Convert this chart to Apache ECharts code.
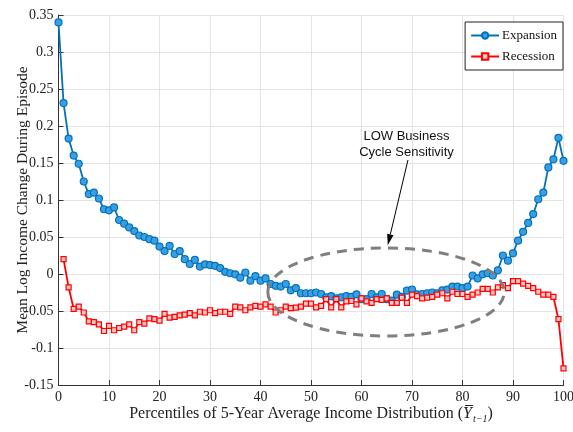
<!DOCTYPE html>
<html>
<head>
<meta charset="utf-8">
<script src="https://cdn.jsdelivr.net/npm/echarts@6/dist/echarts.min.js"></script>
<style>
  html, body { margin: 0; padding: 0; background: #fff; }
  #chart { width: 573px; height: 432px; }
</style>
</head>
<body>
<div id="chart"></div>
<script>
// Percentile of the 5-year average income distribution
const percentiles = [
  0, 1, 2, 3, 4, 5, 6, 7, 8, 9,
  10, 11, 12, 13, 14, 15, 16, 17, 18, 19,
  20, 21, 22, 23, 24, 25, 26, 27, 28, 29,
  30, 31, 32, 33, 34, 35, 36, 37, 38, 39,
  40, 41, 42, 43, 44, 45, 46, 47, 48, 49,
  50, 51, 52, 53, 54, 55, 56, 57, 58, 59,
  60, 61, 62, 63, 64, 65, 66, 67, 68, 69,
  70, 71, 72, 73, 74, 75, 76, 77, 78, 79,
  80, 81, 82, 83, 84, 85, 86, 87, 88, 89,
  90, 91, 92, 93, 94, 95, 96, 97, 98, 99,
  100
];

// Mean log income change during expansions, one value per percentile
const expansion = [
  0.340, 0.231, 0.183, 0.160, 0.149, 0.125, 0.108, 0.110, 0.102, 0.0875,
  0.086, 0.090, 0.073, 0.068, 0.063, 0.058, 0.052, 0.050, 0.047, 0.045,
  0.037, 0.031, 0.038, 0.027, 0.031, 0.020, 0.0135, 0.019, 0.010, 0.013,
  0.012, 0.011, 0.008, 0.003, 0.001, -0.0005, -0.005, 0.002, -0.009, -0.003,
  -0.009, -0.006, -0.0135, -0.016, -0.017, -0.0135, -0.022, -0.019, -0.026, -0.026,
  -0.026, -0.025, -0.027, -0.0315, -0.030, -0.033, -0.0315, -0.030, -0.031, -0.0275,
  -0.034, -0.034, -0.027, -0.0315, -0.027, -0.034, -0.036, -0.028, -0.031, -0.0225,
  -0.021, -0.0275, -0.027, -0.026, -0.025, -0.026, -0.022, -0.021, -0.017, -0.017,
  -0.019, -0.017, -0.002, -0.006, -0.0005, 0.001, -0.002, 0.005, 0.025, 0.018,
  0.028, 0.045, 0.057, 0.069, 0.081, 0.101, 0.110, 0.144, 0.155, 0.184,
  0.153
];

// Mean log income change during recessions (no value at percentile 0)
const recession = [
  null, 0.020, -0.018, -0.047, -0.044, -0.052, -0.064, -0.065, -0.068, -0.077,
  -0.070, -0.076, -0.073, -0.071, -0.068, -0.076, -0.065, -0.067, -0.060, -0.061,
  -0.063, -0.054, -0.059, -0.058, -0.056, -0.055, -0.053, -0.056, -0.051, -0.052,
  -0.049, -0.053, -0.051, -0.051, -0.054, -0.044, -0.045, -0.049, -0.045, -0.043,
  -0.044, -0.041, -0.044, -0.052, -0.049, -0.044, -0.046, -0.0455, -0.044, -0.040,
  -0.040, -0.045, -0.043, -0.034, -0.045, -0.034, -0.045, -0.037, -0.0365, -0.041,
  -0.033, -0.037, -0.039, -0.034, -0.035, -0.033, -0.039, -0.039, -0.032, -0.039,
  -0.028, -0.030, -0.033, -0.032, -0.031, -0.028, -0.026, -0.033, -0.024, -0.027,
  -0.027, -0.031, -0.028, -0.025, -0.020, -0.020, -0.025, -0.018, -0.015, -0.019,
  -0.0095, -0.0095, -0.013, -0.016, -0.019, -0.024, -0.028, -0.028, -0.031, -0.061,
  -0.1275
];

const seriesNames = ['Expansion', 'Recession'];

const SERIF = '"Liberation Serif", "Times New Roman", serif';
const SANS = '"Liberation Sans", Arial, sans-serif';
const AXIS_COLOR = '#333333';
const GRID_COLOR = '#e3e3e3';

function pairs(values) {
  const out = [];
  values.forEach((v, i) => { if (v !== null) out.push([percentiles[i], v]); });
  return out;
}

function tickText(v) {
  return String(Number(v.toFixed(2)));
}

const chart = echarts.init(document.getElementById('chart'), null, { renderer: 'canvas' });

chart.setOption({
  backgroundColor: '#ffffff',
  animation: false,
  grid: { left: 58.5, right: 9.5, top: 15, bottom: 47, containLabel: false, outerBoundsMode: 'none' },
  legend: {
    data: seriesNames,
    orient: 'vertical',
    right: 10,
    top: 22,
    backgroundColor: '#ffffff',
    borderColor: '#222222',
    borderWidth: 1,
    borderRadius: 0,
    padding: [7, 6, 7, 5],
    itemGap: 8,
    itemWidth: 28,
    itemHeight: 8,
    textStyle: { fontFamily: SERIF, fontSize: 13, color: '#111111', padding: [0, 0, 0, -2] }
  },
  xAxis: {
    type: 'value',
    min: 0,
    max: 100,
    interval: 10,
    name: 'Percentiles of 5-Year Average Income Distribution ({y|Y\u0305}{s|t\u22121})',
    nameLocation: 'middle',
    nameGap: 19,
    nameMoveOverlap: false,
    nameTextStyle: {
      fontFamily: SERIF, fontSize: 16, color: '#222222',
      rich: {
        y: { fontFamily: SERIF, fontSize: 16, fontStyle: 'italic', color: '#222222' },
        s: { fontFamily: SERIF, fontSize: 10, fontStyle: 'italic', color: '#222222', padding: [10, 0, 0, 1] }
      }
    },
    axisLine: { show: true, onZero: false, lineStyle: { color: AXIS_COLOR, width: 1 } },
    axisTick: { show: true, inside: true, length: 5, lineStyle: { color: AXIS_COLOR } },
    axisLabel: { fontFamily: SERIF, fontSize: 14, color: '#222222', margin: 5 },
    splitLine: { show: true, lineStyle: { color: GRID_COLOR, width: 1 } }
  },
  yAxis: {
    type: 'value',
    min: -0.15,
    max: 0.35,
    interval: 0.05,
    name: 'Mean Log Income Change During Episode',
    nameLocation: 'middle',
    nameGap: 28,
    nameMoveOverlap: false,
    nameTextStyle: { fontFamily: SERIF, fontSize: 15.5, color: '#222222' },
    axisLine: { show: true, onZero: false, lineStyle: { color: AXIS_COLOR, width: 1 } },
    axisTick: { show: true, inside: true, length: 5, lineStyle: { color: AXIS_COLOR } },
    axisLabel: { fontFamily: SERIF, fontSize: 14, color: '#222222', margin: 5, formatter: tickText },
    splitLine: { show: true, lineStyle: { color: GRID_COLOR, width: 1 } }
  },
  series: [
    {
      name: seriesNames[0],
      type: 'line',
      data: pairs(expansion),
      symbol: 'circle',
      symbolSize: 7,
      showAllSymbol: true,
      lineStyle: { color: '#0072BD', width: 1.8 },
      itemStyle: { color: '#3a9fe0', borderColor: '#0072BD', borderWidth: 1.2 },
      z: 2
    },
    {
      name: seriesNames[1],
      type: 'line',
      data: pairs(recession),
      symbol: 'rect',
      symbolSize: 5,
      showAllSymbol: true,
      lineStyle: { color: '#ff0000', width: 1.8 },
      itemStyle: { color: '#ffc8c8', borderColor: '#ff0000', borderWidth: 1.2 },
      z: 3
    }
  ]
});

// Annotation: dashed ellipse around the flat middle range, arrow and note
function drawAnnotation() {
  const px = (x, y) => chart.convertToPixel({ gridIndex: 0 }, [x, y]);
  const center = px(64.85, -0.0243);
  const xEdge = px(64.85 + 23.4, -0.0243);
  const yEdge = px(64.85, -0.0243 + 0.0595);
  const rx = xEdge[0] - center[0];
  const ry = center[1] - yEdge[1];

  const tail = px(69.2, 0.154);
  const tip = px(65.2, 0.039);
  const dx = tip[0] - tail[0], dy = tip[1] - tail[1];
  const len = Math.hypot(dx, dy);
  const ux = dx / len, uy = dy / len;
  const headLen = 11, headHalf = 3.2;
  const base = [tip[0] - ux * headLen, tip[1] - uy * headLen];
  const left = [base[0] - uy * headHalf, base[1] + ux * headHalf];
  const right = [base[0] + uy * headHalf, base[1] - ux * headHalf];

  const note = px(68.9, 0.1757);

  chart.setOption({
    graphic: [
      {
        type: 'ellipse',
        shape: { cx: center[0], cy: center[1], rx: rx, ry: ry },
        style: { fill: null, stroke: '#7f7f7f', lineWidth: 3, lineDash: [10, 7] },
        z: 10
      },
      {
        type: 'line',
        shape: { x1: tail[0], y1: tail[1], x2: base[0], y2: base[1] },
        style: { stroke: '#000000', lineWidth: 1 },
        z: 10
      },
      {
        type: 'polygon',
        shape: { points: [tip, left, right] },
        style: { fill: '#000000' },
        z: 10
      },
      {
        type: 'text',
        x: note[0],
        y: note[1],
        style: {
          text: 'LOW Business\nCycle Sensitivity',
          font: '13px ' + SANS,
          fill: '#111111',
          align: 'center',
          verticalAlign: 'middle',
          textAlign: 'center',
          textVerticalAlign: 'middle',
          lineHeight: 16
        },
        z: 10
      }
    ]
  });
}

drawAnnotation();
</script>
</body>
</html>
